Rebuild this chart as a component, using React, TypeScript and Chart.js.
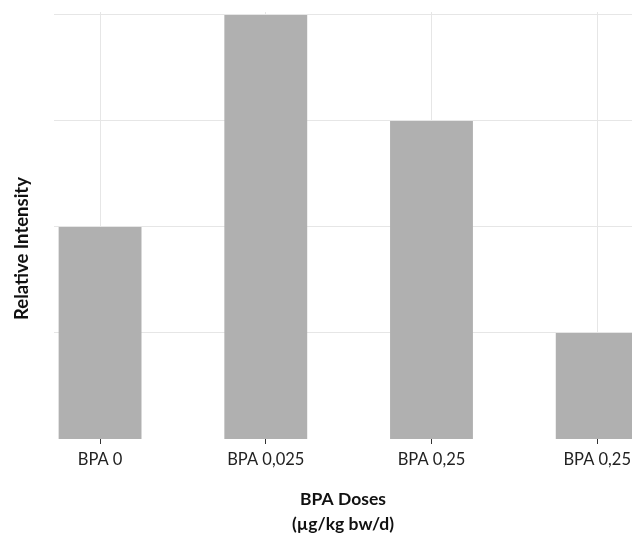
import React, { useEffect, useRef } from "react";
import { Chart, registerables } from "chart.js";

Chart.register(...registerables);

const categories = ["BPA 0", "BPA 0,025", "BPA 0,25", "BPA 0,25"];
const intensityValues = [2, 4, 3, 1];
const yGridValues = [1, 2, 3, 4];
const xTitleLines = ["BPA Doses", "(µg/kg bw/d)"];
const yTitle = "Relative Intensity";

const shiftYTitle = {
  id: "shiftYTitle",
  afterLayout(chart: any) {
    const y = chart.scales.y;
    if (y) {
      y.top += 23;
      y.bottom += 23;
    }
  },
};

export default function App() {
  const canvasRef = useRef<HTMLCanvasElement | null>(null);

  useEffect(() => {
    const canvas = canvasRef.current;
    if (!canvas) return;
    const chart = new Chart(canvas, {
      type: "bar",
      data: {
        datasets: [
          {
            data: intensityValues.map((v, i) => ({ x: i, y: v })),
            backgroundColor: "#b0b0b0",
            borderWidth: 0,
            barPercentage: 0.5,
            categoryPercentage: 1,
            clip: false,
          },
        ],
      },
      plugins: [shiftYTitle],
      options: {
        animation: false,
        responsive: false,
        devicePixelRatio: 1,
        layout: { padding: { top: 12, right: 0, left: 0, bottom: 0 } },
        plugins: { legend: { display: false }, tooltip: { enabled: false } },
        scales: {
          x: {
            type: "linear",
            offset: false,
            min: -0.278,
            max: 3.21,
            afterBuildTicks: (scale: any) => {
              scale.ticks = categories.map((_, i) => ({ value: i }));
            },
            afterFit: (scale: any) => {
              scale.height = 94;
              scale.paddingLeft = 0;
              scale.paddingRight = 0;
            },
            grid: {
              offset: false,
              color: "#e6e6e6",
              lineWidth: 1,
              tickColor: "#333333",
              tickLength: 5,
              drawTicks: true,
            },
            border: { display: false },
            ticks: {
              autoSkip: false,
              maxRotation: 0,
              padding: 6,
              color: "#222222",
              font: { family: "Lato", size: 16.5 },
              callback: (v: any) => categories[Math.round(Number(v))] ?? "",
            },
            title: {
              display: true,
              text: xTitleLines,
              color: "#111111",
              font: { family: "Lato", size: 17.5, weight: "bold", lineHeight: 1.45 },
              padding: { top: 0, bottom: -4 },
            },
          },
          y: {
            type: "linear",
            min: 0,
            max: 4.028,
            afterBuildTicks: (scale: any) => {
              scale.ticks = yGridValues.map((v) => ({ value: v }));
            },
            afterFit: (scale: any) => {
              scale.width = 54;
            },
            grid: { color: "#e6e6e6", lineWidth: 1, drawTicks: false },
            border: { display: false },
            ticks: { display: false },
            title: {
              display: true,
              text: yTitle,
              color: "#111111",
              font: { family: "Lato", size: 18.5, weight: "bold", lineHeight: 1.2 },
              padding: { top: 11, bottom: 0 },
            },
          },
        },
      },
    });
    return () => chart.destroy();
  }, []);

  return (
    <div style={{ position: "fixed", left: 0, top: 0, width: 632, height: 533, background: "#ffffff" }}>
      <canvas ref={canvasRef} width={632} height={533} style={{ width: 632, height: 533 }} />
    </div>
  );
}
